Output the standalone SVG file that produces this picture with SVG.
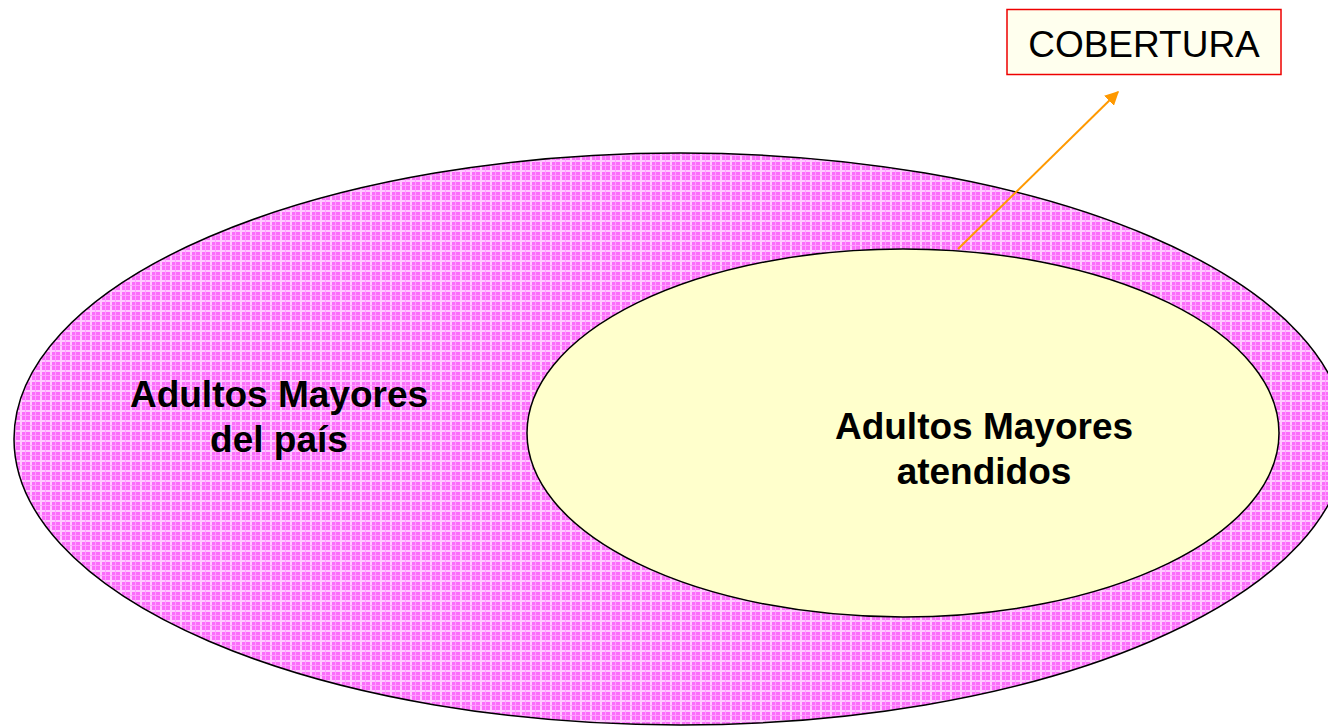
<svg xmlns="http://www.w3.org/2000/svg" width="1328" height="727" viewBox="0 0 1328 727">
<defs>
<pattern id="check" x="0" y="0" width="10" height="10" patternUnits="userSpaceOnUse">
<rect width="10" height="10" fill="#fb6cfb"/>
<rect x="0" y="0" width="2" height="10" fill="#ffc8ff"/>
<rect x="0" y="0" width="10" height="2" fill="#ffc8ff"/>
<rect x="5" y="0" width="1" height="10" fill="#ff9eff"/>
<rect x="0" y="5" width="10" height="1" fill="#ff9eff"/>
</pattern>
<marker id="arrow" viewBox="0 0 10 10" refX="9" refY="5" markerWidth="7" markerHeight="7" orient="auto">
<path d="M0,0 L10,5 L0,10 z" fill="#ff9900"/>
</marker>
</defs>
<style>
.lbl{font-family:"Liberation Sans",Arial,sans-serif;font-weight:bold;font-size:37px;fill:#000;text-anchor:middle}
.box{font-family:"Liberation Sans",Arial,sans-serif;font-size:37px;fill:#000;text-anchor:middle}
</style>
<rect width="1328" height="727" fill="#ffffff"/>
<g id="outer">
<ellipse cx="680" cy="439" rx="666" ry="286" fill="url(#check)" stroke="#000" stroke-width="1.5"/>
<text class="lbl" x="279" y="407">Adultos Mayores</text>
<text class="lbl" x="279" y="452">del país</text>
</g>
<g id="inner">
<ellipse cx="903" cy="433" rx="376" ry="184" fill="#ffffcc" stroke="#000" stroke-width="1.5"/>
<text class="lbl" x="984" y="439">Adultos Mayores</text>
<text class="lbl" x="984" y="484">atendidos</text>
</g>
<g id="cobertura">
<rect x="1007" y="9.5" width="274" height="65" fill="#ffffee" stroke="#ee0000" stroke-width="1.5"/>
<text class="box" x="1144" y="57">COBERTURA</text>
</g>
<g id="connectors">
<line x1="958" y1="249" x2="1118" y2="92" stroke="#ff9900" stroke-width="2" marker-end="url(#arrow)"/>
</g>
</svg>
